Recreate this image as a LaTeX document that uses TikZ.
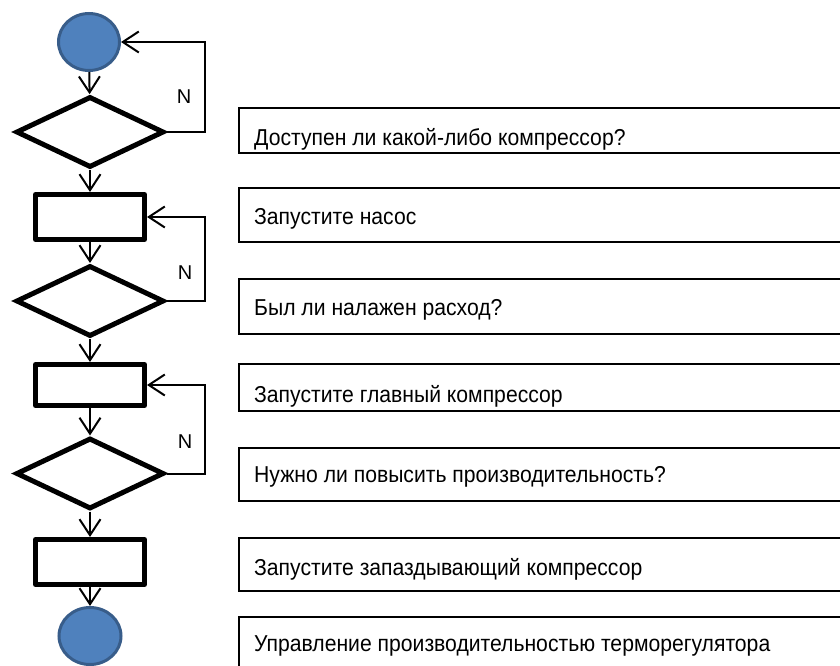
\documentclass[tikz,border=0pt]{standalone}
\usepackage{fontspec}
\setmainfont{Liberation Sans}
\newfontfamily\narrowfont{Liberation Sans}[FakeStretch=0.92]
\usetikzlibrary{arrows.meta,shapes.geometric}
\definecolor{termfill}{HTML}{4F81BD}
\definecolor{termline}{HTML}{385D8A}
\begin{document}
\begin{tikzpicture}[x=1pt,y=1pt,
		every node/.append style={inner sep=0pt},
		term/.style={ellipse,draw=termline,fill=termfill,line width=3pt,minimum width=61,minimum height=57},
		decide/.style={diamond,draw,line width=5pt,minimum width=148,minimum height=71},
		action/.style={rectangle,draw,line width=5pt,line join=round,minimum width=109,minimum height=45},
		flow/.style={line width=2pt,-{Straight Barb[length=16pt,width=21pt,line width=2pt]}},
		infobox/.style={rectangle,draw,line width=1.8pt,anchor=north west,minimum width=640},
		infotext/.style={anchor=base west,font=\narrowfont\fontsize{23}{27}\selectfont},
		nlabel/.style={font=\fontsize{20}{24}\selectfont}]
				\useasboundingbox (0,0) rectangle (840,-666);
				\clip (0,0) rectangle (840,-666);
				\node [term] (c1) at (89,-42) {};
				\node [decide] (d1) at (90,-132) {};
				\node [action] (r1) at (90,-217) {};
				\node [decide] (d2) at (90,-301) {};
				\node [action,minimum height=41] (r2) at (90,-385) {};
				\node [decide] (d3) at (90,-473.5) {};
				\node [action] (r3) at (90,-562) {};
				\node [term,minimum width=62] (c2) at (90,-636) {};
				\draw [flow] (c1) -- (d1);
				\draw [flow] (d1) -- (r1);
				\draw [flow] (r1) -- (d2);
				\draw [flow] (d2) -- (r2);
				\draw [flow] (r2) -- (d3);
				\draw [flow] (d3) -- (r3);
				\draw [flow] (r3) -- (c2);
				\draw [flow] (d1.east) -- ++(38,0) |- (c1.east);
				\draw [flow] (d2.east) -- ++(38,0) |- (r1.east);
				\draw [flow] (d3.east) -- ++(38,0) |- (r2.east);
				\node [nlabel] (n1) at (184,-97) {N};
				\node [nlabel] (n2) at (185,-273) {N};
				\node [nlabel] (n3) at (185,-442) {N};
				\node [infobox,minimum height=45] (b1) at (238,-107) {};
				\node [infotext] (t1) at (254,-145) {Доступен ли какой-либо компрессор?};
				\node [infobox,minimum height=54] (b2) at (238,-187) {};
				\node [infotext] (t2) at (254,-224) {Запустите насос};
				\node [infobox,minimum height=55] (b3) at (238,-278) {};
				\node [infotext] (t3) at (254,-315) {Был ли налажен расход?};
				\node [infobox,minimum height=47] (b4) at (238,-363) {};
				\node [infotext] (t4) at (254,-402) {Запустите главный компрессор};
				\node [infobox,minimum height=53] (b5) at (238,-447) {};
				\node [infotext] (t5) at (254,-482) {Нужно ли повысить производительность?};
				\node [infobox,minimum height=53] (b6) at (238,-537) {};
				\node [infotext] (t6) at (254,-575) {Запустите запаздывающий компрессор};
				\node [infobox,minimum height=80] (b7) at (238,-616) {};
				\node [infotext] (t7) at (254,-651) {Управление производительностью терморегулятора};
			\end{tikzpicture}
\end{document}
